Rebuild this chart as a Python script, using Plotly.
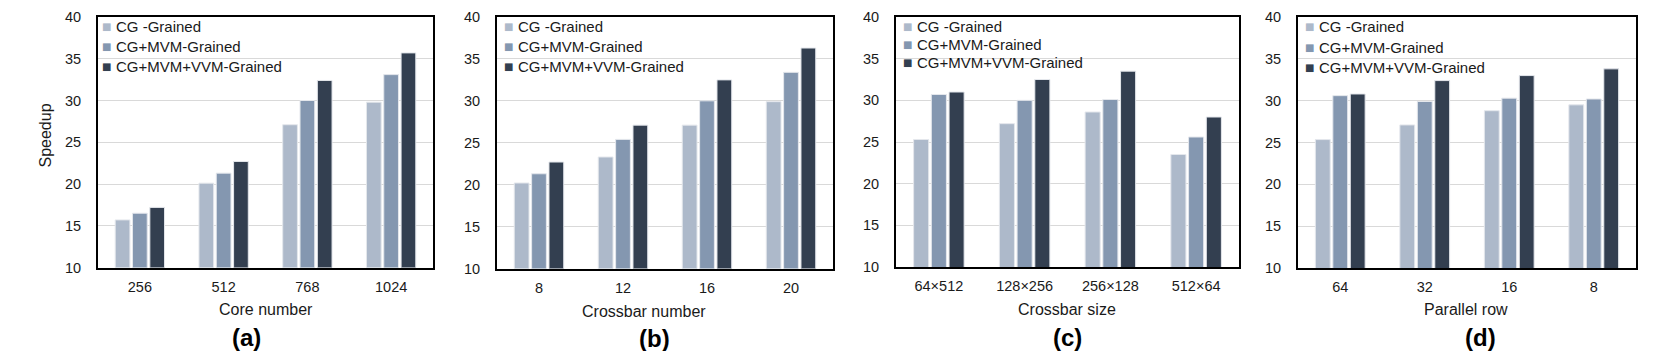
import plotly.graph_objects as go
from plotly.subplots import make_subplots

W, H = 1661, 351

series_names = ["CG -Grained", "CG+MVM-Grained", "CG+MVM+VVM-Grained"]
series_colors = ["#ADB9CA", "#8497B0", "#333F50"]

# (a) core number
core_cats = ["256", "512", "768", "1024"]
core_cg = [15.7, 20.1, 27.1, 29.8]
core_mvm = [16.5, 21.3, 30.0, 33.1]
core_vvm = [17.2, 22.7, 32.4, 35.7]

# (b) crossbar number
xbar_num_cats = ["8", "12", "16", "20"]
xbar_num_cg = [20.2, 23.3, 27.1, 29.9]
xbar_num_mvm = [21.3, 25.4, 30.0, 33.4]
xbar_num_vvm = [22.7, 27.1, 32.5, 36.3]

# (c) crossbar size
xbar_size_cats = ["64×512", "128×256", "256×128", "512×64"]
xbar_size_cg = [25.3, 27.2, 28.6, 23.5]
xbar_size_mvm = [30.7, 30.0, 30.1, 25.6]
xbar_size_vvm = [31.0, 32.5, 33.5, 28.0]

# (d) parallel row
prow_cats = ["64", "32", "16", "8"]
prow_cg = [25.35, 27.1, 28.8, 29.5]
prow_mvm = [30.6, 29.9, 30.3, 30.2]
prow_vvm = [30.8, 32.4, 33.0, 33.8]

panels = [
    (core_cats, [core_cg, core_mvm, core_vvm], "Core number", "(a)"),
    (xbar_num_cats, [xbar_num_cg, xbar_num_mvm, xbar_num_vvm], "Crossbar number", "(b)"),
    (xbar_size_cats, [xbar_size_cg, xbar_size_mvm, xbar_size_vvm], "Crossbar size", "(c)"),
    (prow_cats, [prow_cg, prow_mvm, prow_vvm], "Parallel row", "(d)"),
]

# -------------------------------------------------
# pixel layout (measured from the reference)
# -------------------------------------------------
frames = [(98, 433, 17, 267.5), (497, 833, 17, 268.5), (896, 1239, 17, 267), (1298, 1636, 17, 268)]
xtitle_pos = [(266, 309), (644, 311), (1067, 309), (1466, 309)]
tag_pos = [(246, 337), (654, 338), (1067, 337), (1480, 337)]
legend_x = [114, 516, 915, 1317]
legend_rows = [(27, 46.5, 66), (27, 46.5, 66), (27, 44.5, 62.5), (27, 47.5, 67.5)]

FONT = "Liberation Sans, Arial, sans-serif"
TXT = "#1a1a1a"


def px_x(x):
    return x / W


def px_y(y):
    return 1 - y / H


fig = make_subplots(rows=1, cols=4)

for i, (cats, vals, xtitle, tag) in enumerate(panels):
    for name, color, v in zip(series_names, series_colors, vals):
        fig.add_trace(
            go.Bar(
                x=cats,
                y=v,
                name=name,
                marker=dict(color=color, line=dict(color="#E4E7EC", width=1)),
                showlegend=False,
            ),
            row=1,
            col=i + 1,
        )

    x0, x1, y0, y1 = frames[i]
    xa = "xaxis" if i == 0 else f"xaxis{i + 1}"
    ya = "yaxis" if i == 0 else f"yaxis{i + 1}"
    fig.layout[xa].update(
        domain=[px_x(x0), px_x(x1)], automargin=False,
        showline=True, linecolor="black", linewidth=2, mirror=True,
        showgrid=False, ticks="", ticklabelstandoff=5,
        tickfont=dict(family=FONT, size=14.5, color=TXT),
    )
    fig.layout[ya].update(
        domain=[px_y(y1), px_y(y0)], automargin=False,
        range=[10, 40], dtick=5,
        showline=True, linecolor="black", linewidth=2, mirror=True,
        showgrid=True, gridcolor="#D9D9D9", gridwidth=1.3,
        ticks="", ticklabelstandoff=12,
        tickfont=dict(family=FONT, size=14.5, color=TXT),
    )

    # axis title and panel tag
    fig.add_annotation(
        x=px_x(xtitle_pos[i][0]), y=px_y(xtitle_pos[i][1]),
        xref="paper", yref="paper", text=xtitle, showarrow=False,
        xanchor="center", yanchor="middle",
        font=dict(family=FONT, size=16, color=TXT),
    )
    fig.add_annotation(
        x=px_x(tag_pos[i][0]), y=px_y(tag_pos[i][1]),
        xref="paper", yref="paper", text=f"<b>{tag}</b>", showarrow=False,
        xanchor="center", yanchor="middle",
        font=dict(family=FONT, size=24, color="black"),
    )

    # legend (square + label) inside the top-left corner
    for name, color, ry in zip(series_names, series_colors, legend_rows[i]):
        fig.add_annotation(
            x=px_x(legend_x[i]), y=px_y(ry),
            xref="paper", yref="paper", showarrow=False,
            xanchor="right", yanchor="middle",
            text=f'<span style="color:{color}">■</span>',
            font=dict(family="DejaVu Sans", size=10, color=color),
            xshift=-1,
        )
        fig.add_annotation(
            x=px_x(legend_x[i]), y=px_y(ry),
            xref="paper", yref="paper", showarrow=False,
            xanchor="left", yanchor="middle",
            text=name,
            font=dict(family=FONT, size=15, color=TXT),
        )

# y axis title on the first panel only
fig.add_annotation(
    x=px_x(45), y=px_y(135.5), xref="paper", yref="paper",
    text="Speedup", showarrow=False, textangle=-90,
    xanchor="center", yanchor="middle",
    font=dict(family=FONT, size=16, color=TXT),
)

fig.update_layout(
    width=W,
    height=H,
    margin=dict(l=0, r=0, t=0, b=0, autoexpand=False),
    paper_bgcolor="white",
    plot_bgcolor="white",
    barmode="group",
    bargap=0.38,
    bargroupgap=0.15,
    showlegend=False,
)

# drop the browser's default 8px body margin so the figure sits at (0, 0)
fig.write_html(
    "out.html",
    config={"displayModeBar": False},
    post_script="document.body.style.margin='0';document.body.style.overflow='hidden';",
)
